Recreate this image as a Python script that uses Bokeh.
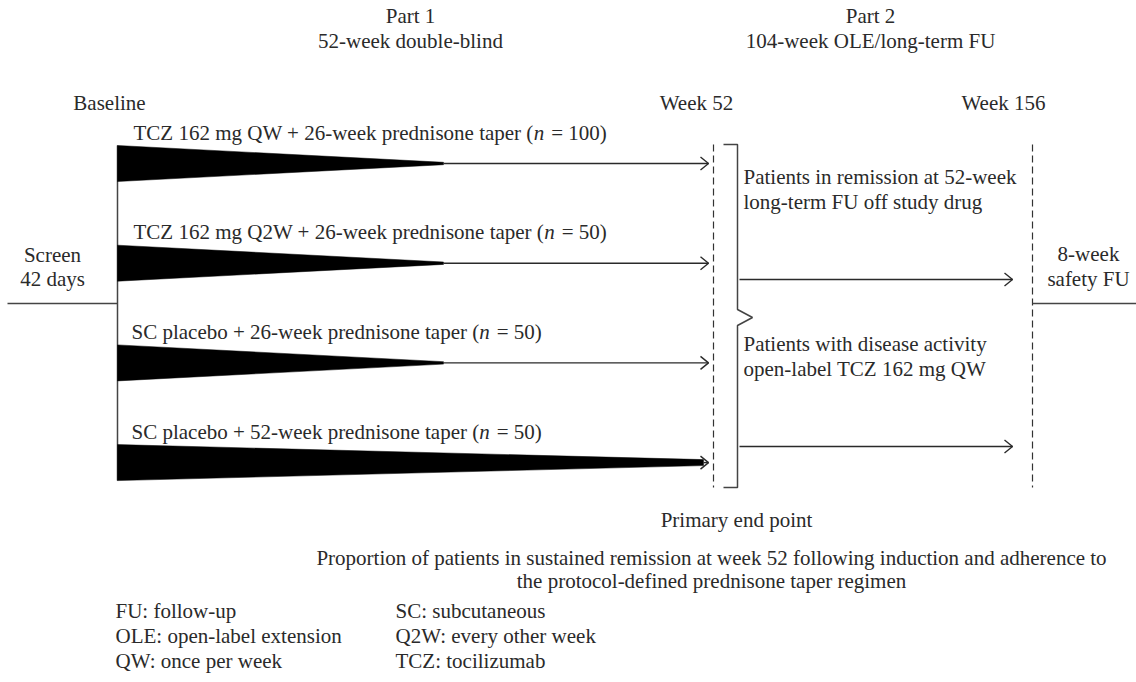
import numpy as np
from bokeh.plotting import figure
from bokeh.models import Range1d
from bokeh.core.properties import value
from bokeh.embed import file_html
from bokeh.resources import INLINE

# ---------------- data ----------------
arm_labels = ["TCZ 162 mg QW + 26-week prednisone taper",
              "TCZ 162 mg Q2W + 26-week prednisone taper",
              "SC placebo + 26-week prednisone taper",
              "SC placebo + 52-week prednisone taper"]
arm_n = [100, 50, 50, 50]
taper_weeks = [26, 26, 26, 52]
timepoint_labels = ["Baseline", "Week 52", "Week 156"]
part_titles = ["Part 1", "Part 2"]
part_subtitles = ["52-week double-blind", "104-week OLE/long-term FU"]
part2_paths = [["Patients in remission at 52-week", "long-term FU off study drug"],
               ["Patients with disease activity", "open-label TCZ 162 mg QW"]]
screen_label = ["Screen", "42 days"]
safety_label = ["8-week", "safety FU"]
endpoint_title = "Primary end point"
endpoint_text = ["Proportion of patients in sustained remission at week 52 following induction and adherence to",
                 "the protocol-defined prednisone taper regimen"]
abbrev_col1 = ["FU: follow-up", "OLE: open-label extension", "QW: once per week"]
abbrev_col2 = ["SC: subcutaneous", "Q2W: every other week", "TCZ: tocilizumab"]

# ---------------- layout (pixel-like schematic coordinates) ----------------
FONT_NAME = "Liberation Serif"
FS = 21
TXT = "#2a2a2a"
LINE = "#2a2a2a"
X_BASE, X_W52, X_W156 = 117, 713, 1032
X_BRACKET = 737
ROW_Y0, ROW_STEP = 163, 99.7
TOP, BOT = 144, 487
WEDGE_H = 18

def taper_x(w):
    # schematic mapping of taper length onto the Part 1 band
    return np.interp(w, [0, 26, 52], [X_BASE, 443, 703])

WIDTHS = {' ': 250, '(': 333, ')': 333, '+': 564, '-': 333, '=': 564, '/': 278, ':': 278,
          'C': 667, 'Q': 722, 'S': 556, 'T': 611, 'W': 944, 'Z': 611,
          'a': 444, 'b': 500, 'c': 444, 'd': 500, 'e': 444, 'g': 500, 'i': 278, 'k': 500,
          'l': 278, 'm': 778, 'n': 500, 'o': 500, 'p': 500, 'r': 333, 's': 389, 't': 278, 'w': 722}

def tw(s, size=FS):
    return sum(WIDTHS.get(c, 500) for c in s) * size / 1000.0

p = figure(width=1136, height=682, x_range=Range1d(0, 1136), y_range=Range1d(682, 0),
           output_backend="svg", toolbar_location=None, min_border=0,
           x_axis_type=None, y_axis_type=None, outline_line_color=None)
p.grid.visible = False

def txt(x, y, s, align="left", italic=False, size=FS):
    kw = dict(text_font_style="italic") if italic else {}
    p.text(x=[x], y=[y], text=[s], text_font=value(FONT_NAME), text_font_size=value(f"{size}px"),
           text_align=align, text_baseline="middle", text_color=TXT, **kw)

def arrowhead(xe, y, lw=1.4):
    p.line([xe - 8, xe, xe - 8], [y - 6.5, y, y + 6.5], line_color=LINE, line_width=lw)

# screen line and baseline
p.line([7, X_BASE], [303, 303], line_color="#444444", line_width=1.5)
p.line([X_BASE, X_BASE], [145, 480], line_color="#444444", line_width=1.5)

# arms
row_y = [ROW_Y0 + i * ROW_STEP for i in range(len(arm_labels))]
tips = taper_x(np.array(taper_weeks, dtype=float))
wx, wy = [], []
for yc, tip, wk in zip(row_y, tips, taper_weeks):
    half_tip = 3 if wk >= 52 else 1.2
    wx.append([X_BASE, tip, tip, X_BASE])
    wy.append([yc - WEDGE_H, yc - half_tip, yc + half_tip, yc + WEDGE_H])
p.patches(wx, wy, fill_color="black", line_color="black", line_width=0.5)
for yc, tip in zip(row_y, tips):
    p.line([tip, X_W52 - 5], [yc, yc], line_color=LINE, line_width=1.4)
    arrowhead(X_W52 - 5, yc)

for i, (yc, lab, n) in enumerate(zip(row_y, arm_labels, arm_n)):
    x0 = 133 if lab.startswith("TCZ") else 131
    ly = yc - 31
    pre = lab + " ("
    txt(x0, ly, pre)
    x1 = x0 + tw(pre)
    txt(x1, ly, "n", italic=True)
    txt(x1 + tw("n") + 7, ly, f"= {n})")

# dashed time lines
p.segment(x0=[X_W52, X_W156], y0=[TOP, TOP], x1=[X_W52, X_W156], y1=[BOT, BOT],
          line_color="#333333", line_width=1.2, line_dash="7 4")

# bracket
p.line([723, X_BRACKET, X_BRACKET, 752, X_BRACKET, X_BRACKET, 723],
       [TOP, TOP, 309, 317, 325, BOT, BOT], line_color="#444444", line_width=1.5)

# part 2 arrows
for yc in [279, 446]:
    p.line([X_BRACKET + 2, 1012], [yc, yc], line_color=LINE, line_width=1.4)
    arrowhead(1012, yc)

# safety FU line
p.line([X_W156, 1136], [303, 303], line_color="#444444", line_width=1.5)

# header texts
txt(410, 15, part_titles[0], "center")
txt(410, 40, part_subtitles[0], "center")
txt(870, 15, part_titles[1], "center")
txt(870, 40, part_subtitles[1], "center")
txt(109, 102, timepoint_labels[0], "center")
txt(696, 102, timepoint_labels[1], "center")
txt(1003, 102, timepoint_labels[2], "center")

# side texts
txt(52, 254, screen_label[0], "center")
txt(52, 278, screen_label[1], "center")
txt(1088, 253, safety_label[0], "center")
txt(1088, 278, safety_label[1], "center")
for (l1, l2), y in zip(part2_paths, [176, 343]):
    txt(743, y, l1)
    txt(743, y + 25, l2)

# end point
txt(736, 519, endpoint_title, "center")
txt(711, 557, endpoint_text[0], "center")
txt(711, 580, endpoint_text[1], "center")

# abbreviations
for i, (a, b) in enumerate(zip(abbrev_col1, abbrev_col2)):
    txt(115, 610 + 25 * i, a)
    txt(395, 610 + 25 * i, b)

open("out.html", "w").write(file_html(p, INLINE))
